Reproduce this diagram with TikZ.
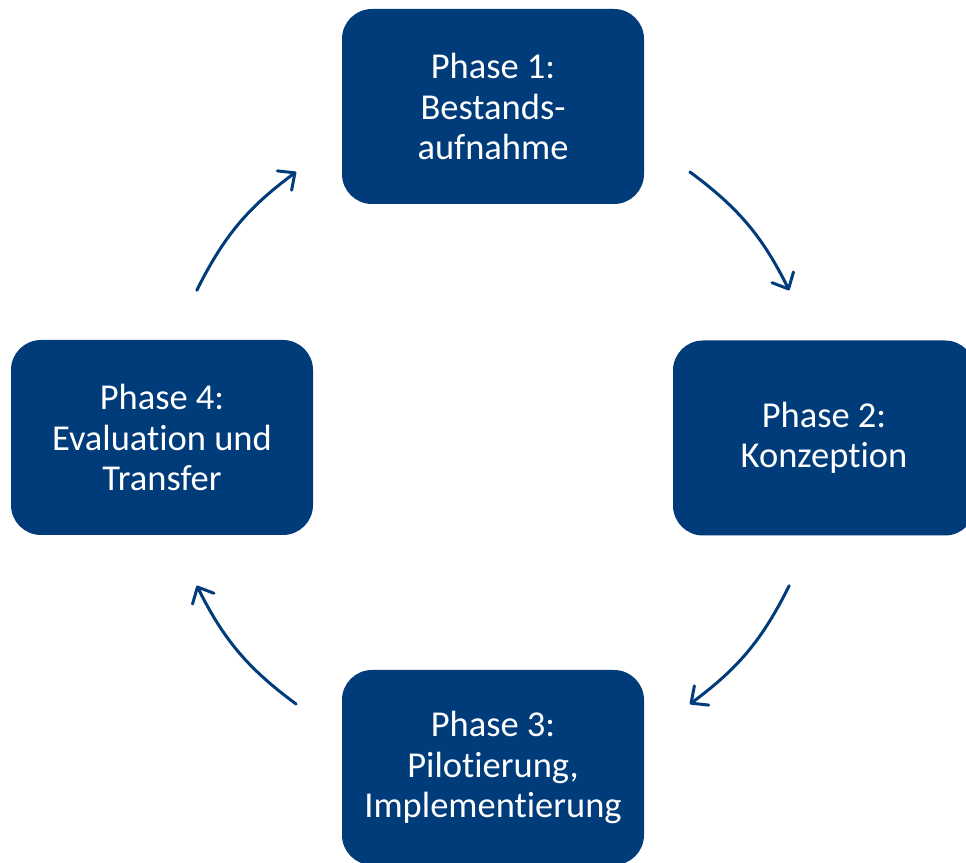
\documentclass[tikz,border=0pt]{standalone}
\usepackage{fontspec}
\setmainfont{Carlito}[Ligatures=NoCommon]
\usetikzlibrary{arrows.meta,calc}
\definecolor{phaseblue}{HTML}{003B7A}
\begin{document}
\begin{tikzpicture}[x=1pt,y=1pt,
  phasebox/.style={fill=phaseblue, rounded corners=30pt, minimum width=302pt, minimum height=195pt,
    text=white, align=center, font=\fontsize{36.5}{40.5}\selectfont, inner sep=0pt},
  cyclearrow/.style={draw=phaseblue, line width=3pt, line cap=round,
    -{Straight Barb[length=13pt,width=24pt,line cap=round,line join=round]}}]
\useasboundingbox (0,0) rectangle (966,862);
\clip (0,0) rectangle (966,862);

\node[phasebox] (p1) at (493,755.5) {Phase 1:\\Bestands-\\aufnahme};
\node[phasebox] (p2) at (824,424) {Phase 2:\\Konzeption};
\node[phasebox] (p3) at (493,94.5) {Phase 3:\\Pilotierung,\\Implementierung};
\node[phasebox] (p4) at (162,424.5) {Phase 4:\\Evaluation und\\Transfer};

\coordinate (c) at (493,424);
\coordinate (a1s) at ($(c)+(53.5:331pt)$);
\coordinate (a1e) at ($(c)+(26.5:331pt)$);
\coordinate (a2s) at ($(c)+(-26.5:331pt)$);
\coordinate (a2e) at ($(c)+(-53.5:331pt)$);
\coordinate (a3s) at ($(c)+(-126.5:331pt)$);
\coordinate (a3e) at ($(c)+(-153.5:331pt)$);
\coordinate (a4s) at ($(c)+(153.5:331pt)$);
\coordinate (a4e) at ($(c)+(126.5:331pt)$);

\draw[cyclearrow] (a1s) to[bend left=13.5] (a1e);
\draw[cyclearrow] (a2s) to[bend left=13.5] (a2e);
\draw[cyclearrow] (a3s) to[bend left=13.5] (a3e);
\draw[cyclearrow] (a4s) to[bend left=13.5] (a4e);
\end{tikzpicture}
\end{document}
